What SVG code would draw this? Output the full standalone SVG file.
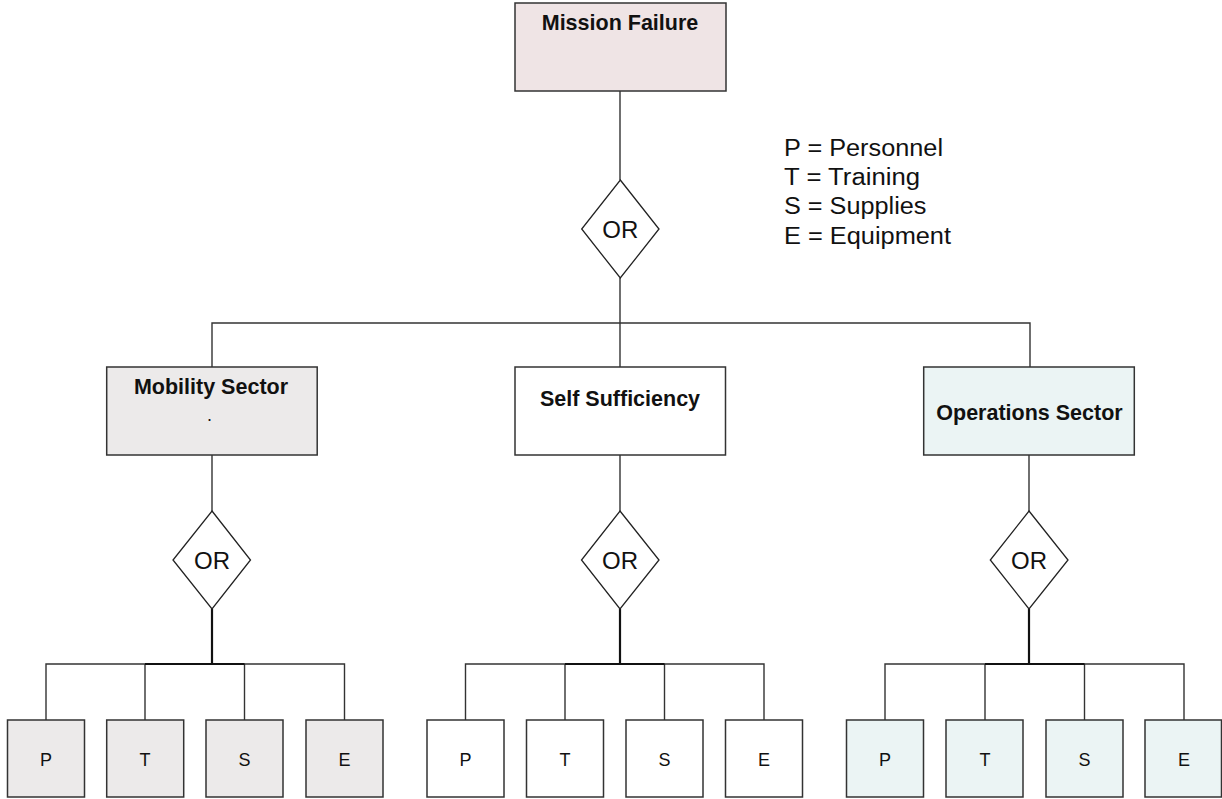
<svg xmlns="http://www.w3.org/2000/svg" width="1222" height="799" viewBox="0 0 1222 799">
<style>
.box{stroke:#333;stroke-width:1.5}
.mf{fill:#EFE4E5}
.mob{fill:#ECEAEA}
.self{fill:#FFFFFF}
.ops{fill:#EBF4F4}
.gate{fill:#FFFFFF;stroke:#222;stroke-width:1.3}
.ln{fill:none;stroke:#333;stroke-width:1.4}
.thk{fill:none;stroke:#111;stroke-width:2.2}
.bt{font-family:"Liberation Sans",Arial,sans-serif;font-weight:bold;font-size:21.5px;fill:#111;text-anchor:middle}
.or{font-family:"Liberation Sans",Arial,sans-serif;font-size:24px;fill:#111;text-anchor:middle}
.lt{font-family:"Liberation Sans",Arial,sans-serif;font-size:18px;fill:#111;text-anchor:middle}
.lg{font-family:"Liberation Sans",Arial,sans-serif;font-size:23.5px;fill:#111}
</style>
<rect width="1222" height="799" fill="#FFFFFF"/>
<g id="connectors">
<line class="ln" x1="620" y1="91" x2="620" y2="180"/>
<line class="ln" x1="620" y1="278" x2="620" y2="323"/>
<polyline class="ln" points="212,367 212,323 1030,323 1030,367"/>
<line class="ln" x1="620" y1="323" x2="620" y2="367"/>
<line class="ln" x1="212" y1="455" x2="212" y2="511"/>
<line class="ln" x1="620" y1="455" x2="620" y2="511"/>
<line class="ln" x1="1029" y1="455" x2="1029" y2="511"/>
<line class="thk" x1="212" y1="609" x2="212" y2="664"/>
<line class="thk" x1="620" y1="609" x2="620" y2="664"/>
<line class="thk" x1="1029" y1="609" x2="1029" y2="664"/>
<polyline class="ln" points="46,720 46,664 344.5,664 344.5,720"/>
<line class="ln" x1="145" y1="664" x2="145" y2="720"/>
<line class="ln" x1="244.5" y1="664" x2="244.5" y2="720"/>
<line class="thk" x1="145" y1="664" x2="244.5" y2="664"/>
<polyline class="ln" points="465.5,720 465.5,664 764,664 764,720"/>
<line class="ln" x1="565" y1="664" x2="565" y2="720"/>
<line class="ln" x1="664.5" y1="664" x2="664.5" y2="720"/>
<line class="thk" x1="565" y1="664" x2="664.5" y2="664"/>
<polyline class="ln" points="885,720 885,664 1184,664 1184,720"/>
<line class="ln" x1="985" y1="664" x2="985" y2="720"/>
<line class="ln" x1="1084.5" y1="664" x2="1084.5" y2="720"/>
<line class="thk" x1="985" y1="664" x2="1084.5" y2="664"/>
</g>
<g id="mission-failure">
<rect class="box mf" x="515" y="3" width="211" height="88"/>
<text class="bt" x="620" y="30">Mission Failure</text>
</g>
<g id="gate-top">
<polygon class="gate" points="620.3,180 659,229 620.3,278 581.7,229"/>
<text class="or" x="620.3" y="238">OR</text>
</g>
<g id="legend">
<text class="lg" x="784" y="156" textLength="159" lengthAdjust="spacingAndGlyphs">P = Personnel</text>
<text class="lg" x="784" y="185" textLength="136" lengthAdjust="spacingAndGlyphs">T = Training</text>
<text class="lg" x="784" y="214" textLength="142.5" lengthAdjust="spacingAndGlyphs">S = Supplies</text>
<text class="lg" x="784" y="243.5" textLength="167" lengthAdjust="spacingAndGlyphs">E = Equipment</text>
</g>
<g id="mobility-sector">
<rect class="box mob" x="106.7" y="367" width="210.5" height="88"/>
<text class="bt" x="211" y="394" font-size="22">Mobility Sector</text>
<text class="lt" x="209.5" y="421">.</text>
</g>
<g id="self-sufficiency">
<rect class="box self" x="515" y="367" width="210.5" height="88"/>
<text class="bt" x="620" y="405.5">Self Sufficiency</text>
</g>
<g id="operations-sector">
<rect class="box ops" x="923.7" y="367" width="210.6" height="88"/>
<text class="bt" x="1029.5" y="420">Operations Sector</text>
</g>
<g id="gate-mobility">
<polygon class="gate" points="212,511 250.5,560 212,609 173,560"/>
<text class="or" x="212" y="569">OR</text>
</g>
<g id="gate-self">
<polygon class="gate" points="620,511 659,560 620,609 581.5,560"/>
<text class="or" x="620" y="569">OR</text>
</g>
<g id="gate-ops">
<polygon class="gate" points="1029,511 1068,560 1029,609 990.3,560"/>
<text class="or" x="1029" y="569">OR</text>
</g>
<g id="mob-p"><rect class="box mob" x="7.5" y="720" width="77" height="77"/><text class="lt" x="46" y="766">P</text></g>
<g id="mob-t"><rect class="box mob" x="106.7" y="720" width="77" height="77"/><text class="lt" x="145" y="766">T</text></g>
<g id="mob-s"><rect class="box mob" x="206" y="720" width="77" height="77"/><text class="lt" x="244.5" y="766">S</text></g>
<g id="mob-e"><rect class="box mob" x="306" y="720" width="77" height="77"/><text class="lt" x="344.5" y="766">E</text></g>
<g id="self-p"><rect class="box self" x="427" y="720" width="77" height="77"/><text class="lt" x="465.5" y="766">P</text></g>
<g id="self-t"><rect class="box self" x="526.5" y="720" width="77" height="77"/><text class="lt" x="565" y="766">T</text></g>
<g id="self-s"><rect class="box self" x="626" y="720" width="77" height="77"/><text class="lt" x="664.5" y="766">S</text></g>
<g id="self-e"><rect class="box self" x="725.5" y="720" width="77" height="77"/><text class="lt" x="764" y="766">E</text></g>
<g id="ops-p"><rect class="box ops" x="846.5" y="720" width="77" height="77"/><text class="lt" x="885" y="766">P</text></g>
<g id="ops-t"><rect class="box ops" x="946" y="720" width="77" height="77"/><text class="lt" x="985" y="766">T</text></g>
<g id="ops-s"><rect class="box ops" x="1046" y="720" width="77" height="77"/><text class="lt" x="1084.5" y="766">S</text></g>
<g id="ops-e"><rect class="box ops" x="1145" y="720" width="76.5" height="77"/><text class="lt" x="1184" y="766">E</text></g>
</svg>
